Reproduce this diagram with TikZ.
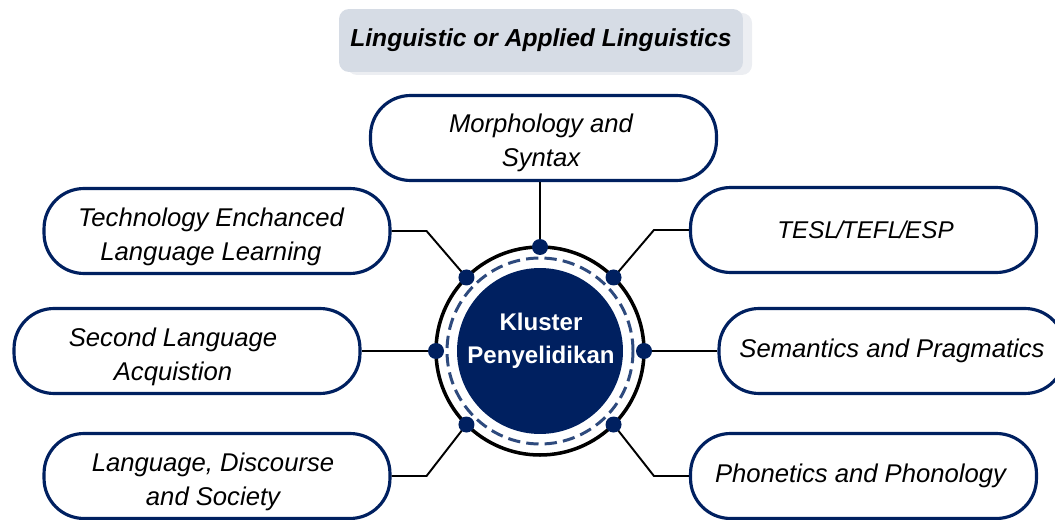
\documentclass[tikz,border=0pt]{standalone}
\usepackage{fontspec}
\setmainfont{Liberation Sans}
\definecolor{navy}{HTML}{002060}
\definecolor{dashnavy}{HTML}{2E4A7D}
\definecolor{titlefill}{HTML}{D6DCE5}
\definecolor{titleshade}{HTML}{ECEEF2}
\begin{document}
\begin{tikzpicture}[x=0.02cm, y=-0.02cm,
    topic/.style={draw=navy, line width=1.8pt, rounded corners=0.8cm,
        minimum width=6.92cm, minimum height=1.7cm, fill=white},
    topictext/.style={align=center, font=\fontsize{14.6}{19.3}\selectfont\itshape},
    link/.style={line width=1.1pt},
    dot/.style={circle, fill=navy, minimum size=0.32cm, inner sep=0pt}]
    \def\R{104}
    \useasboundingbox (0,0) rectangle (1055,520);
    % Title
    \fill[titleshade, rounded corners=0.2cm] (347,13) rectangle (752,75);
    \node[fill=titlefill, rounded corners=0.2cm, minimum width=8.08cm,
        minimum height=1.26cm, font=\fontsize{14}{16}\selectfont\bfseries\itshape]
        (title) at (541,40.5) {Linguistic or Applied Linguistics};
    % Centre
    \node[circle, draw, line width=2pt, minimum size=2*\R*0.02cm, outer sep=0pt]
        (ring) at (540,351) {};
    \draw[dashnavy, line width=1.7pt, dash pattern=on 7pt off 3.5pt] (ring.center) circle (93);
    \node[circle, fill=navy, minimum size=3.32cm, inner sep=0pt] (core) at (540,351) {};
    \node[text=white, align=center, font=\fontsize{13.7}{18.7}\selectfont\bfseries]
        (label) at (541,341) {Kluster\\Penyelidikan};
    % Topics
    \node[topic, label={[topictext, xshift=-0.05cm, yshift=-0.1cm]center:Morphology and\\Syntax}]
        (morph) at (543.5,138) {};
    \node[topic, label={[topictext, xshift=-0.12cm, yshift=-0.11cm]center:Technology Enchanced\\Language Learning}]
        (tell) at (217,231) {};
    \node[topic, label={[topictext, font=\fontsize{13.8}{19.3}\selectfont\itshape, xshift=0.04cm]center:TESL\kern-0.9pt/\kern-0.7pt TEFL\kern-0.9pt/\kern-0.7pt ESP}]
        (tesl) at (863.5,230) {};
    \node[topic, label={[topictext, xshift=-0.28cm, yshift=-0.12cm]center:Second Language\\Acquistion}]
        (sla) at (187,351) {};
    \node[topic, label={[topictext]center:Semantics and Pragmatics}]
        (sem) at (892,351) {};
    \node[topic, label={[topictext, xshift=-0.08cm, yshift=-0.11cm]center:Language, Discourse\\and Society}]
        (lds) at (217,476) {};
    \node[topic, label={[topictext, xshift=-0.06cm]center:Phonetics and Phonology}]
        (phon) at (863.5,476) {};
    % Connectors
    \draw[line width=1.7pt] (ring.90) -- (ring.90 |- morph.south);
    \draw[link] (ring.135) -- ([xshift=0.7cm]tell.east) -- (tell.east);
    \draw[link] (ring.45) -- ([xshift=-0.7cm]tesl.west) -- (tesl.west);
    \draw[link] (ring.180) -- (sla.east);
    \draw[link] (ring.0) -- (sem.west);
    \draw[link] (ring.225) -- ([xshift=0.7cm]lds.east) -- (lds.east);
    \draw[link] (ring.315) -- ([xshift=-0.7cm]phon.west) -- (phon.west);
    % Dots
    \foreach \a in {0,45,90,135,180,225,315}
        \node[dot] at (ring.\a) {};
\end{tikzpicture}
\end{document}
